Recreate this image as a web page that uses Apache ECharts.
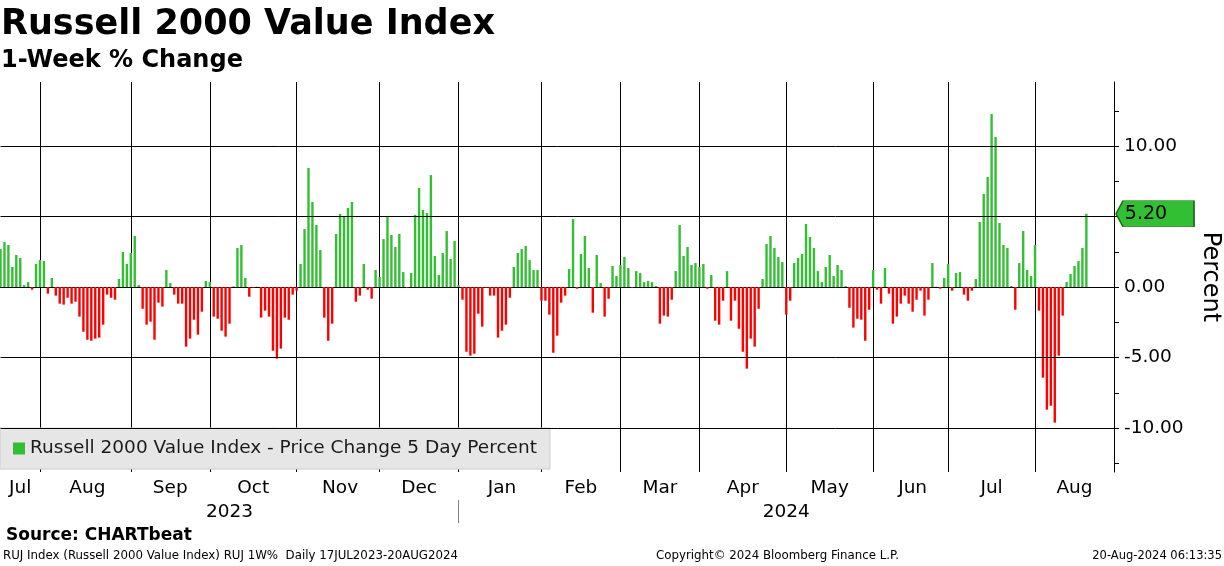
<!DOCTYPE html>
<html><head><meta charset="utf-8">
<script src="https://cdn.jsdelivr.net/npm/echarts@6/dist/echarts.min.js"></script>
<style>html,body{margin:0;padding:0;background:#fff}#c{width:1224px;height:566px}</style>
</head><body><div id="c"></div>
<script>
// 1-week % change, one value per trading day (Jul 18 2023 .. Aug 20 2024)
const jul23 = [2.70,3.19,2.98,1.42,2.27,2.06,0.14,0.35,-0.19,1.63];
const aug23 = [1.91,1.84,-0.47,0.64,-0.61,-1.18,-1.25,-0.76,-1.18,-1.04,-2.10,-3.17,-3.74,-3.81,-3.66,-3.59,-2.67,-0.54,-0.76,-0.90,0.57,2.48,1.63];
const sep23 = [2.41,3.62,0.14,-1.54,-2.67,-2.46,-3.74,-1.11,-1.39,1.21,0.28,-0.54,-1.18,-1.18,-4.23,-3.66,-2.32,-3.38,-1.75,0.43];
const oct23 = [0.35,-2.10,-2.25,-3.10,-3.52,-2.60,0.05,2.77,2.98,0.64,-0.69,-0.05,0.02,-2.17,-1.68,-2.10,-4.52,-5.08,-4.37,-2.17,-2.32,-0.54];
const nov23 = [-0.26,1.63,4.11,8.44,6.03,4.40,2.62,-2.17,-3.81,-2.60,3.76,5.18,5.04,5.60,6.03,-1.04,-0.61,1.63,-0.19,-0.83,1.21];
const dec23 = [0.71,3.40,4.96,3.69,2.84,3.76,1.06,-0.05,0.99,5.11,7.02,5.46,5.25,7.94,2.20,0.85,2.41,3.97,1.99,3.26];
const jan24 = [0.14,-0.90,-4.59,-4.87,-4.73,-1.89,-2.81,-0.05,-0.61,-0.61,-3.59,-3.10,-2.67,-0.76,1.42,2.41,2.70,2.91,1.91,1.21,1.21];
const feb24 = [-0.97,-0.97,-1.96,-4.66,-3.45,-1.11,-0.61,1.28,4.82,-0.12,2.34,3.62,1.35,-1.82,2.27,0.28,-2.10,-0.83,1.49,0.78];
const mar24 = [1.56,2.13,1.35,-0.05,1.13,0.99,0.35,0.43,0.35,0.07,-2.60,-2.03,-2.10,-0.90,1.13,4.40,2.20,2.84,1.56,1.70];
const apr24 = [1.42,1.63,-0.12,0.85,-2.39,-2.67,-0.97,1.13,-2.39,-0.97,-2.96,-4.59,-5.79,-3.66,-4.23,-1.54,0.57,3.05,3.62,2.77,2.13,1.77];
const may24 = [-1.96,-0.97,1.70,2.06,2.34,4.47,3.55,2.77,1.13,0.35,1.42,2.27,0.78,1.56,1.21,0.07,-1.47,-2.88,-2.25,-2.32,-3.81,-1.61];
const jun24 = [1.21,-0.19,-1.18,1.35,-0.47,-2.60,-2.10,-1.18,-0.61,-1.18,-1.75,-0.90,-0.26,-2.03,-0.90,1.70,0.02,-0.12,0.64];
const jul24 = [1.63,-0.26,0.99,1.06,-0.54,-0.97,-0.26,0.57,4.61,6.60,7.80,12.27,10.64,4.54,2.98,2.77,0.07,-1.61,1.70,3.97,1.21,0.78];
const aug24 = [2.98,-1.68,-6.43,-8.70,-8.42,-9.62,-4.87,-2.03,0.35,0.92,1.49,1.84,2.77,5.20];

const values = [].concat(jul23, aug23, sep23, oct23, nov23, dec23, jan24, feb24, mar24, apr24, may24, jun24, jul24, aug24);

// trading calendar for the category axis
const holidays = ['2023-09-04','2023-11-23','2023-12-25','2024-01-01','2024-01-15','2024-02-19','2024-03-29','2024-05-27','2024-06-19','2024-07-04'];
const axisStart = '2023-07-18';
const axisEnd = '2024-08-29';
const monthNames = ['Jan','Feb','Mar','Apr','May','Jun','Jul','Aug','Sep','Oct','Nov','Dec'];
const yTickValues = [-12.5,-10,-7.5,-5,-2.5,0,2.5,5,7.5,10,12.5];
const yLabelValues = [-10,-5,0,5,10];
const gridValues = [10,5,-5,-10];

function buildDates(){
  const out = [];
  const d = new Date(axisStart + 'T00:00:00Z');
  const end = new Date(axisEnd + 'T00:00:00Z');
  while (d <= end) {
    const s = d.toISOString().slice(0,10);
    const wd = d.getUTCDay();
    if (wd !== 0 && wd !== 6 && holidays.indexOf(s) < 0) out.push(s);
    d.setUTCDate(d.getUTCDate() + 1);
  }
  return out;
}
const categories = buildDates();
const lastIdx = categories.length - 1;

// month starts, month label positions, year label positions
const monthStarts = [];
const yearStarts = [];
categories.forEach((c, i) => {
  if (i === 0 || c.slice(0,7) !== categories[i-1].slice(0,7)) monthStarts.push(i);
  if (i === 0 || c.slice(0,4) !== categories[i-1].slice(0,4)) yearStarts.push(i);
});
const monthStartSet = new Set(monthStarts.slice(1));
const monthLabelAt = {};
monthStarts.forEach((s, k) => {
  const e = k + 1 < monthStarts.length ? monthStarts[k+1] : lastIdx;
  monthLabelAt[Math.round((s + e) / 2)] = monthNames[parseInt(categories[s].slice(5,7), 10) - 1];
});
const yearLabelAt = {};
yearStarts.forEach((s, k) => {
  const e = k + 1 < yearStarts.length ? yearStarts[k+1] : lastIdx;
  yearLabelAt[Math.round((s + e) / 2)] = categories[s].slice(0,4);
});
const yearSep = new Set(yearStarts.slice(1));

const GREEN = '#33bf33';
const RED = '#ff0000';
const FONT = 'DejaVu Sans';
const seriesName = 'Russell 2000 Value Index - Price Change 5 Day Percent';
const lastValue = values[values.length - 1];

const chart = echarts.init(document.getElementById('c'), null, {renderer: 'canvas'});
chart.setOption({
  animation: false,
  backgroundColor: '#ffffff',
  title: [
    {text: 'Russell 2000 Value Index', left: 1, top: 7, padding: 0,
     textStyle: {fontSize: 35, fontWeight: 'bold', fontFamily: FONT, color: '#000'}},
    {text: '1-Week % Change', left: 1, top: 49, padding: 0,
     textStyle: {fontSize: 24, fontWeight: 'bold', fontFamily: FONT, color: '#000'}},
    {text: 'Source: CHARTbeat', left: 6, top: 527, padding: 0,
     textStyle: {fontSize: 17, fontWeight: 'bold', fontFamily: FONT, color: '#000'}},
    {text: 'RUJ Index (Russell 2000 Value Index) RUJ 1W%  Daily 17JUL2023-20AUG2024', left: 3, top: 550, padding: 0,
     textStyle: {fontSize: 11.8, fontWeight: 'normal', fontFamily: FONT, color: '#000'}},
    {text: 'Copyright\u00a9 2024 Bloomberg Finance L.P.', left: 656, top: 550, padding: 0,
     textStyle: {fontSize: 11.8, fontWeight: 'normal', fontFamily: FONT, color: '#000'}},
    {text: '20-Aug-2024 06:13:35', right: 2, top: 550, padding: 0,
     textStyle: {fontSize: 11.5, fontWeight: 'normal', fontFamily: FONT, color: '#000'}}
  ],
  legend: {
    left: 0, top: 428, padding: [11, 13, 11, 13],
    backgroundColor: '#e6e6e6', borderColor: '#cccccc', borderWidth: 1,
    itemWidth: 12, itemHeight: 12, icon: 'rect', selectedMode: false,
    textStyle: {fontSize: 18.5, fontFamily: FONT, color: '#1a1a1a'},
    data: [{name: seriesName, itemStyle: {color: GREEN}}]
  },
  grid: {left: 0.5, right: 110, top: 82, bottom: 94, containLabel: false, outerBoundsMode: 'none'},
  xAxis: [
    {
      type: 'category', data: categories, boundaryGap: false, position: 'bottom',
      axisLine: {show: true, lineStyle: {color: '#000', width: 1}},
      axisTick: {show: true, length: 4, interval: (i) => monthStartSet.has(i), lineStyle: {color: '#000'}},
      splitLine: {show: true, interval: (i) => monthStartSet.has(i), lineStyle: {color: '#000', width: 1}},
      axisLabel: {show: true, interval: (i) => monthLabelAt[i] !== undefined,
        formatter: (v, i) => monthLabelAt[i] || '', margin: 7,
        fontSize: 18.5, fontFamily: FONT, color: '#000'}
    },
    {
      type: 'category', data: categories, boundaryGap: false, position: 'bottom', offset: 28,
      axisLine: {show: false},
      axisTick: {show: true, length: 23, interval: (i) => yearSep.has(i), lineStyle: {color: '#808080'}},
      splitLine: {show: false},
      axisLabel: {show: true, interval: (i) => yearLabelAt[i] !== undefined,
        formatter: (v, i) => yearLabelAt[i] || '', margin: 3,
        fontSize: 18.5, fontFamily: FONT, color: '#000'}
    }
  ],
  yAxis: {
    type: 'value', position: 'right', min: -13.12, max: 14.54,
    name: 'Percent', nameLocation: 'middle', nameRotate: -90, nameGap: 84,
    nameTextStyle: {fontSize: 24, fontFamily: FONT, color: '#000'},
    axisLine: {show: true, lineStyle: {color: '#000', width: 1}},
    axisTick: {show: true, length: 5, customValues: yTickValues, lineStyle: {color: '#000'}},
    axisLabel: {show: true, customValues: yLabelValues, formatter: (v) => v.toFixed(2), margin: 10,
      fontSize: 18.5, fontFamily: FONT, color: '#000'},
    splitLine: {show: false}
  },
  series: [{
    name: seriesName, type: 'bar', data: values, barWidth: 2.4, xAxisIndex: 0,
    itemStyle: {color: (p) => (p.value >= 0 ? GREEN : RED)},
    markLine: {
      silent: true, symbol: ['none', 'none'], label: {show: false},
      lineStyle: {color: '#000', width: 1, type: 'solid'},
      emphasis: {disabled: true},
      data: gridValues.map((v) => ({yAxis: v}))
    },
    markPoint: {
      silent: true,
      symbol: 'path://M0,13L7,0L78,0L78,26L7,26Z',
      symbolSize: [78, 26], symbolKeepAspect: false, symbolOffset: [41, 0],
      itemStyle: {color: GREEN, borderColor: '#1d6b1d', borderWidth: 1},
      label: {show: true, formatter: lastValue.toFixed(2), color: '#000', fontSize: 19, fontFamily: FONT, offset: [-9, 0]},
      data: [{coord: [categories[lastIdx], lastValue]}]
    }
  }]
});
</script>
</body></html>
